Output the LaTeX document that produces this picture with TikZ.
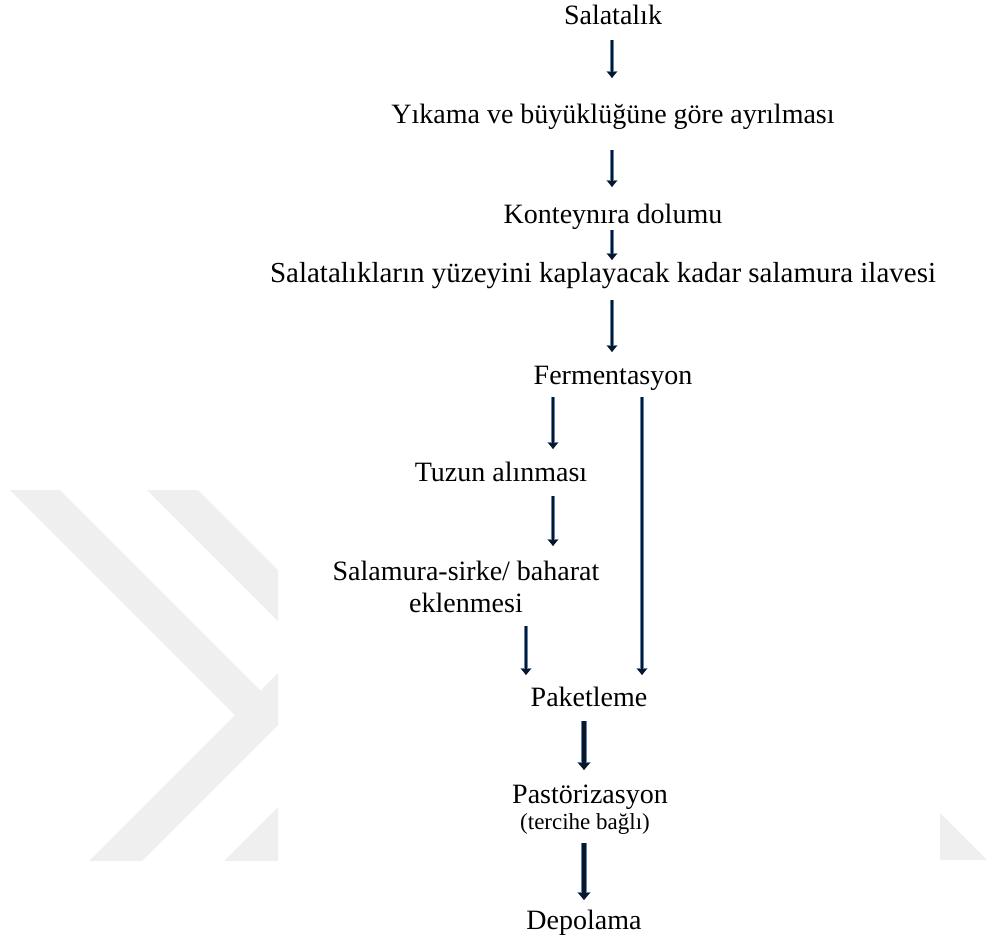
\documentclass[tikz,border=0pt]{standalone}
\usepackage{fontspec}
\setmainfont{Liberation Serif}
\usetikzlibrary{arrows.meta}
\definecolor{arrowcore}{HTML}{0B1626}
\definecolor{arrowedge}{HTML}{5B86B5}
\definecolor{wmgrey}{HTML}{EFEFEF}

\begin{document}
\begin{tikzpicture}[x=1pt, y=-1pt,
  stage/.style={inner sep=0pt, anchor=base, font=\fontsize{28}{32}\selectfont},
  flow/.style={draw=arrowcore, line width=2.6pt, -{Triangle[width=9pt,length=6pt]},
    preaction={draw=arrowedge, line width=3.8pt, -{Triangle[width=11pt,length=7pt]}}},
  bigflow/.style={draw=arrowcore, line width=4pt, -{Triangle[width=11pt,length=7pt]},
    preaction={draw=arrowedge, line width=5.2pt, -{Triangle[width=13pt,length=8pt]}}}]
  \useasboundingbox (0,0) rectangle (992,940);
  % Watermark
  \begin{scope}
    \clip (0,490) rectangle (278,860);
    \fill[wmgrey] (-40,440) -- (235,715) -- (-10,960) -- (43,960) -- (300,703)
      -- (300,651) -- (260.5,690.5) -- (10,440) -- cycle;
    \fill[wmgrey] (97,440) -- (148,440) -- (300,592) -- (300,643) -- cycle;
    \fill[wmgrey] (175,910) -- (300,785) -- (300,910) -- cycle;
  \end{scope}
  \fill[wmgrey] (940,813) -- (940,860) -- (987,860) -- cycle;
  % Nodes
  \node (salat) [stage] at (613,24) {Salatalık};
  \node (yikama) [stage] at (613,123) {Yıkama ve büyüklüğüne göre ayrılması};
  \node (kont) [stage] at (613,223) {Konteynıra dolumu};
  \node (ilave) [stage, font=\fontsize{29}{32}\selectfont] at (603,282) {Salatalıkların yüzeyini kaplayacak kadar salamura ilavesi};
  \node (ferm) [stage] at (613,384) {Fermentasyon};
  \node (tuz) [stage] at (501,481) {Tuzun alınması};
  \node (sirke) [stage, anchor=north, align=center] at (466,561) {Salamura-sirke/ baharat\\eklenmesi};
  \node (paket) [stage] at (589,706) {Paketleme};
  \node (paster) [stage] at (590,803) {Pastörizasyon};
  \node (tercih) [stage, font=\fontsize{23}{26}\selectfont] at (585,829) {(tercihe bağlı)};
  \node (depo) [stage] at (584,929) {Depolama};
  % Columns
  \coordinate (midcol) at (612,0);
  \coordinate (leftcol) at (553,0);
  \coordinate (rightcol) at (642,0);
  \coordinate (sidecol) at (526,0);
  \coordinate (lowcol) at (584,0);
  % Arrow
  \draw[flow, shorten <=16pt, shorten >=45pt] (salat.base -| midcol) -- (yikama.base -| midcol);
  \draw[flow, shorten <=27pt, shorten >=36pt] (yikama.base -| midcol) -- (kont.base -| midcol);
  \draw[flow, shorten <=7pt, shorten >=22pt] (kont.base -| midcol) -- (ilave.base -| midcol);
  \draw[flow, shorten <=18pt, shorten >=32pt] (ilave.base -| midcol) -- (ferm.base -| midcol);
  \draw[flow, shorten <=13pt, shorten >=32pt] (ferm.base -| leftcol) -- (tuz.base -| leftcol);
  \draw[flow, shorten <=13pt, shorten >=31pt] (ferm.base -| rightcol) -- (paket.base -| rightcol);
  \draw[flow, shorten <=15pt, shorten >=15pt] (tuz.base -| leftcol) -- (sirke.north -| leftcol);
  \draw[flow, shorten <=13pt, shorten >=31pt] (sirke.south -| sidecol) -- (paket.base -| sidecol);
  \draw[bigflow, shorten <=15pt, shorten >=33pt] (paket.base -| lowcol) -- (paster.base -| lowcol);
  \draw[bigflow, shorten <=14pt, shorten >=29pt] (tercih.base -| lowcol) -- (depo.base -| lowcol);
\end{tikzpicture}
\end{document}
